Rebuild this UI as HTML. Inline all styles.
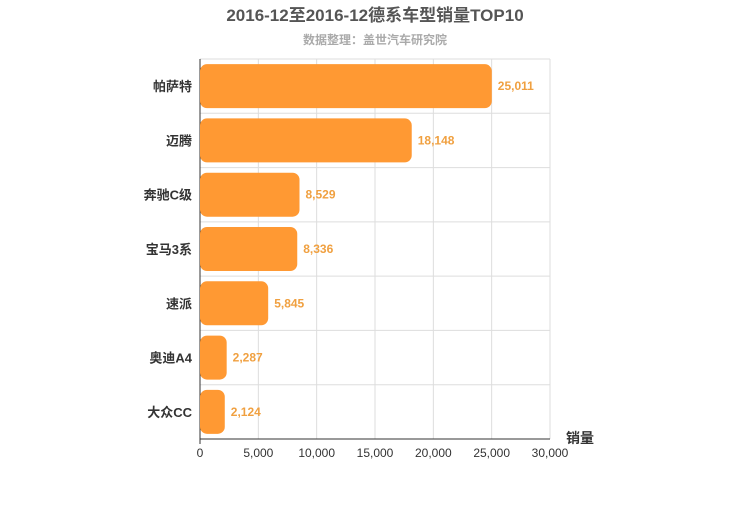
<!DOCTYPE html>
<html><head><meta charset="utf-8"><style>
body{margin:0;background:#fff;}
svg text{font-family:"Liberation Sans","Noto Sans CJK SC",sans-serif;}
</style></head><body>
<svg id="c" width="750" height="500">
<text x="375" y="21" text-anchor="middle" font-size="17" font-weight="bold" fill="#555">2016-12至2016-12德系车型销量TOP10</text>
<text x="375" y="44" text-anchor="middle" font-size="12" font-weight="bold" fill="#aaa">数据整理：盖世汽车研究院</text>
<g id="grid"></g><g id="bars"></g>
<text x="566" y="443" font-size="14" font-weight="bold" fill="#333">销量</text>
</svg>
<script>
const categories=["帕萨特","迈腾","奔驰C级","宝马3系","速派","奥迪A4","大众CC"];
const values=[25011,18148,8529,8336,5845,2287,2124];
const ticks=[0,5000,10000,15000,20000,25000,30000];
const NS="http://www.w3.org/2000/svg";
const x0=200,x1=550,y0=59,y1=439,max=30000;
const xs=v=>x0+(v/max)*(x1-x0);
const band=(y1-y0)/categories.length;
const g=document.getElementById('grid'),b=document.getElementById('bars');
function mk(t,a,p){const e=document.createElementNS(NS,t);for(const k in a)e.setAttribute(k,a[k]);p.appendChild(e);return e;}
ticks.forEach(t=>{
 const l=mk('line',{x1:xs(t),x2:xs(t),y1:y0,y2:y1,stroke:'#ddd'},g);
 
 
 const tx=mk('text',{x:xs(t),y:y1+18,'text-anchor':'middle','font-size':12,fill:'#333'},g);
 tx.textContent=t.toLocaleString('en-US');
 
 
});
for(let i=0;i<=categories.length;i++){
 const l=mk('line',{x1:x0,x2:x1,y1:y0+i*band,y2:y0+i*band,stroke:'#ddd'},g);
 
 
}
const ax=mk('line',{x1:x0,x2:x0,y1:y0,y2:y1+5,stroke:'#333'},g);


const bx=mk('line',{x1:x0,x2:x1,y1:y1,y2:y1,stroke:'#333'},g);


categories.forEach((c,i)=>{
 const yc=y0+band*i+band/2,h=44;
 const r=mk('rect',{x:x0,y:yc-h/2,width:xs(values[i])-x0,height:h,rx:7,fill:'#ff9933'},b);
 
 
 const t=mk('text',{x:xs(values[i])+6,y:yc+4,'font-size':12,'font-weight':'bold',fill:'#f0a040'},b);
 t.textContent=values[i].toLocaleString('en-US');
 
 
 const l=mk('text',{x:x0-8,y:yc+5,'text-anchor':'end','font-size':13,'font-weight':'bold',fill:'#333'},b);
 l.textContent=c;
 
 
});
</script>
</body></html>
